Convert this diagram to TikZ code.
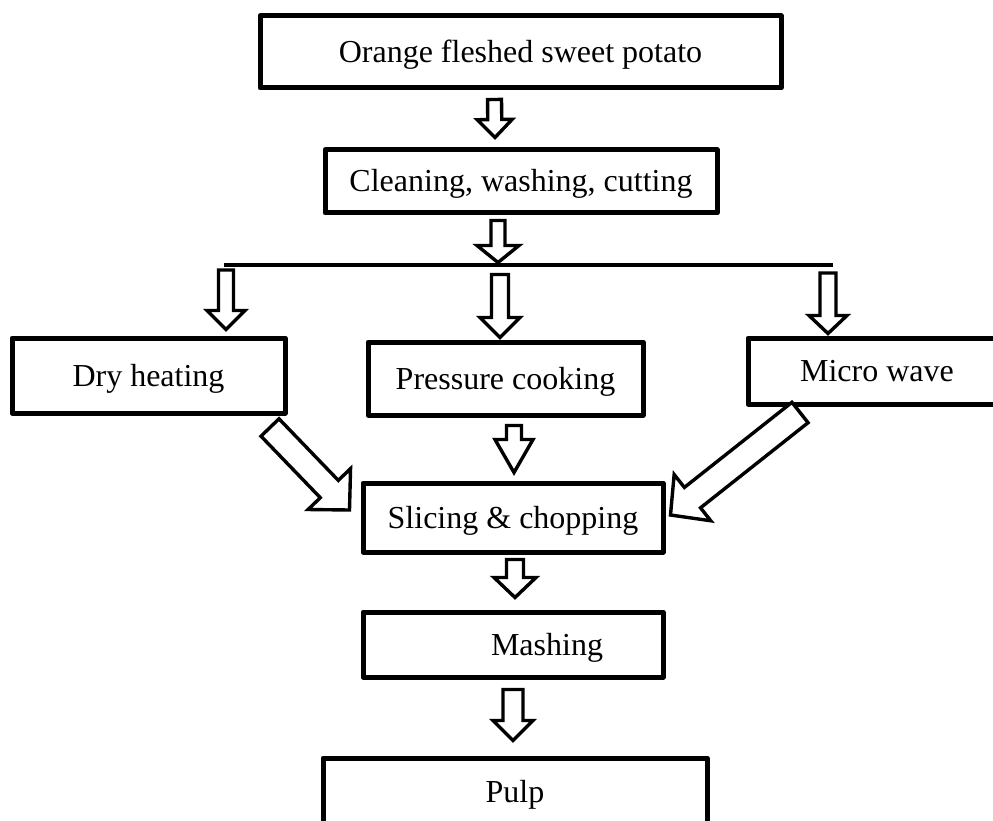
\documentclass[tikz,border=0pt]{standalone}
\usepackage{fontspec}
\setmainfont{Liberation Serif}
\usepackage{tikz}
\usetikzlibrary{calc}

\tikzset{
    stepbox/.style={draw, line width=5pt, line join=round, inner sep=0pt,
                    text height=21pt, text depth=0pt,
                    font=\fontsize{32}{38}\selectfont},
    hollow/.style={draw, line width=3.4pt, fill=white, line join=miter}
}

\begin{document}
\begin{tikzpicture}[x=1pt, y=1pt]
        \useasboundingbox (0,0) rectangle (993,-821);
        \clip (0,0) rectangle (993,-821);

        % Function to draw a hollow block arrow
        \newcommand{\blockArrow}[5]{
            % #1 tail, #2 tip, #3 half shaft, #4 half head, #5 head length
            \draw[hollow] let \p1 = ($(#2)-(#1)$),
                              \n1 = {atan2(\y1,\x1)},
                              \n2 = {veclen(\x1,\y1)-#5} in
                ($(#1)+(\n1+90:#3)$)
                -- ($(#1)+(\n1:\n2)+(\n1+90:#3)$)
                -- ($(#1)+(\n1:\n2)+(\n1+90:#4)$)
                -- (#2)
                -- ($(#1)+(\n1:\n2)+(\n1-90:#4)$)
                -- ($(#1)+(\n1:\n2)+(\n1-90:#3)$)
                -- ($(#1)+(\n1-90:#3)$) -- cycle;
        }

        % Process steps
        \node[stepbox, minimum width=521, minimum height=72] (potato) at (520.5,-52)
            {Orange fleshed sweet potato};
        \node[stepbox, minimum width=392, minimum height=63] (clean) at (521,-181.5)
            {Cleaning, washing, cutting};
        \node[stepbox, minimum width=273, minimum height=75] (dry) at (148.5,-375.5)
            {Dry heating};
        \node[stepbox, minimum width=275, minimum height=73] (press) at (505.5,-378.5)
            {Pressure cooking};
        \node[stepbox, minimum width=258, minimum height=66] (micro) at (877,-371)
            {Micro wave};
        \node[stepbox, minimum width=300, minimum height=69] (slice) at (513,-517.5)
            {Slicing \& chopping};
        \node[stepbox, minimum width=300, minimum height=65] (mash) at (513,-644.5)
            {\hspace*{68pt}Mashing};
        \node[stepbox, minimum width=384, minimum height=68] (pulp) at (515,-792)
            {Pulp};

        % Split line
        \coordinate (splitL) at (224,-265);
        \coordinate (splitR) at (833,-265);
        \draw[line width=4.5pt] (splitL) -- (splitR);

        % Arrows
        \blockArrow{$(potato.south)+(-26,-9)$}{$(clean.north)+(-26,10)$}{7}{17.5}{18}
        \blockArrow{$(clean.south)+(-23,-5)$}{$(clean.south)+(-23,-47)$}{7}{21}{17}
        \blockArrow{$(splitL)+(2,-5)$}{$(dry.north)+(77.5,6)$}{7.5}{19}{19}
        \blockArrow{$(press.north)+(-5.5,65)$}{$(press.north)+(-5.5,2)$}{8.5}{20}{20}
        \blockArrow{$(splitR)+(-5,-8)$}{$(micro.north)+(-49,2)$}{8}{19}{18}
        \blockArrow{$(press.south)+(8.5,-8)$}{$(slice.north)+(1,8)$}{7.5}{19}{33}
        \blockArrow{$(slice.south)+(2,-5)$}{$(mash.north)+(2,12)$}{8.5}{21}{20}
        \blockArrow{$(mash.south)+(0,-10)$}{$(pulp.north)+(-2,15)$}{10}{20}{20}

        % Diagonal arrows into slicing
        \blockArrow{$(dry.south east)+(-17.5,-12)$}{$(slice.west)+(-11,7.5)$}{12.5}{29.5}{29}
        \blockArrow{$(micro.south west)+(54.5,-6)$}{$(slice.east)+(5,2.5)$}{13}{29.5}{28}
\end{tikzpicture}
\end{document}
